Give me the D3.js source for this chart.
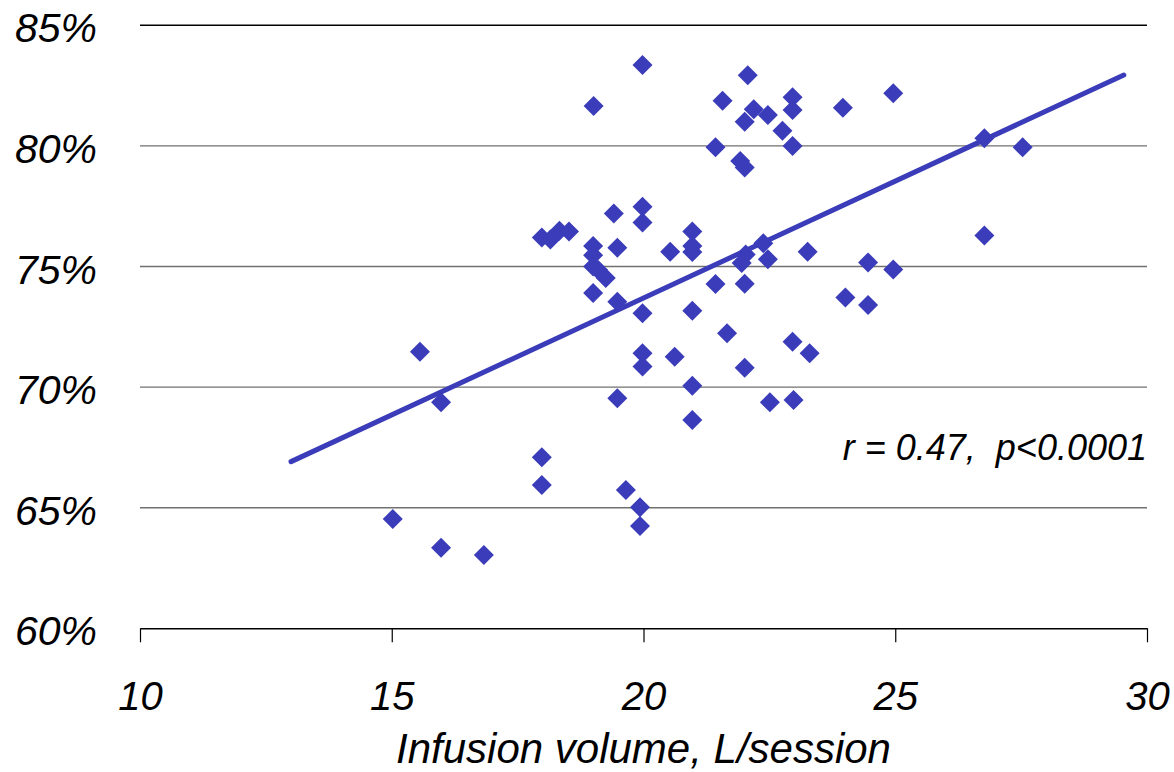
<!DOCTYPE html>
<html>
<head>
<meta charset="utf-8">
<script src="https://cdn.jsdelivr.net/npm/d3@7"></script>
<style>
  body { margin:0; background:#fff; }
</style>
</head>
<body>
<svg id="chart" width="1174" height="772"></svg>
<script>
// infusion volume (L/session)
var volume = [15.02,15.56,15.98,15.98,16.83,17.98,17.98,17.98,18.15,18.33,
  18.52,19.01,19.0,19.0,19.0,19.1,19.25,19.0,19.41,19.48,
  19.48,19.48,19.65,19.93,19.93,19.98,19.98,19.98,19.98,19.98,
  19.98,20.53,20.62,20.97,20.97,20.97,20.97,20.97,20.97,21.43,
  21.43,21.57,21.66,21.92,22.01,22.01,22.07,22.19,22.47,22.76,
  22.03,21.95,22.38,22.47,22.01,22.01,22.51,22.96,22.96,22.96,
  22.96,22.98,23.26,23.30,23.96,24.01,24.46,24.46,24.96,24.96,
  26.77,26.77,27.53]
// measured percentage
var pct = [64.53,71.47,69.37,63.34,63.04,67.09,65.94,76.2,76.12,76.48,
  76.45,81.65,75.85,75.47,75.0,74.85,74.52,73.9,77.2,75.78,
  73.54,69.54,65.73,65.02,64.24,83.35,77.48,76.82,73.06,71.40,
  70.85,75.61,71.26,76.45,75.85,75.6,73.17,70.06,68.64,79.94,
  74.27,81.87,72.23,79.37,79.10,81.0,82.93,81.52,81.28,80.63,
  75.5,75.15,75.96,75.3,74.28,70.80,69.37,82.02,81.49,80.0,
  71.88,69.47,75.61,71.40,81.58,73.71,75.17,73.40,82.18,74.88,
  80.32,76.29,79.94]

var xTicks = [10,15,20,25,30]
var yTicks = [60,65,70,75,80,85]
var trendX = [13.0,29.54]
var trendY = [66.91,82.94]
var statText = "r = 0.47,  p<0.0001"
var xTitle = "Infusion volume, L/session"

var markColor = "#3b3cb9"

var svg = d3.select("#chart")

var xScale = d3.scaleLinear().domain([10,30]).range([140,1147])
var yScale = d3.scaleLinear().domain([60,85]).range([628.3,25.3])

//---horizontal gridlines---
svg.append("g")
  .selectAll("line")
  .data(yTicks.filter(function(d){return d>60}))
  .enter().append("line")
  .attr("x1",xScale(10))
  .attr("x2",xScale(30))
  .attr("y1",function(d){return yScale(d)})
  .attr("y2",function(d){return yScale(d)})
  .attr("stroke",function(d){return d==85?"#000":"#707070"})
  .attr("stroke-width",1.4)

//---y labels---
svg.append("g")
  .selectAll("text")
  .data(yTicks)
  .enter().append("text")
  .attr("x",97)
  .attr("y",function(d){return yScale(d)+17})
  .attr("text-anchor","end")
  .attr("font-family","Liberation Sans, Arial, sans-serif")
  .attr("font-style","italic")
  .attr("font-size","41px")
  .attr("fill","#000")
  .text(function(d){return d+"%"})

//---x axis---
var xAxisG = svg.append("g")
  .attr("transform","translate(0,"+yScale(60)+")")
  .call(d3.axisBottom(xScale).tickValues(xTicks).tickSize(14).tickPadding(38).tickSizeOuter(0))
xAxisG.select(".domain").attr("stroke","#000").attr("stroke-width",1.4)
xAxisG.selectAll(".tick line").attr("stroke","#000").attr("stroke-width",1.2)
xAxisG.selectAll("text")
  .attr("font-family","Liberation Sans, Arial, sans-serif")
  .attr("font-style","italic")
  .attr("font-size","40px")
  .attr("fill","#000")
  .attr("dy","0")
  .attr("y",82)

//---trend line---
var trendData = trendX.map(function(d,i){return [d,trendY[i]]})
var line = d3.line()
  .x(function(d){return xScale(d[0])})
  .y(function(d){return yScale(d[1])})
svg.append("path")
  .datum(trendData)
  .attr("d",line)
  .attr("fill","none")
  .attr("stroke",markColor)
  .attr("stroke-width",5)
  .attr("stroke-linecap","round")

//---diamonds---
var diamond = d3.symbol().type(d3.symbolSquare).size(200)
svg.append("g")
  .selectAll("path")
  .data(volume)
  .enter().append("path")
  .attr("d",diamond)
  .attr("transform",function(d,i){return "translate("+xScale(d)+","+yScale(pct[i])+")rotate(45)"})
  .attr("fill",markColor)

//---stat text---
svg.append("text")
  .attr("x",1147)
  .attr("y",460)
  .attr("text-anchor","end")
  .attr("font-family","Liberation Sans, Arial, sans-serif")
  .attr("font-style","italic")
  .attr("font-size","36px")
  .attr("fill","#000")
  .attr("xml:space","preserve")
  .style("white-space","pre")
  .text(statText)

//---x title---
svg.append("text")
  .attr("x",(xScale(10)+xScale(30))/2)
  .attr("y",763)
  .attr("text-anchor","middle")
  .attr("font-family","Liberation Sans, Arial, sans-serif")
  .attr("font-style","italic")
  .attr("font-size","42px")
  .attr("fill","#000")
  .text(xTitle)
</script>
</body>
</html>
